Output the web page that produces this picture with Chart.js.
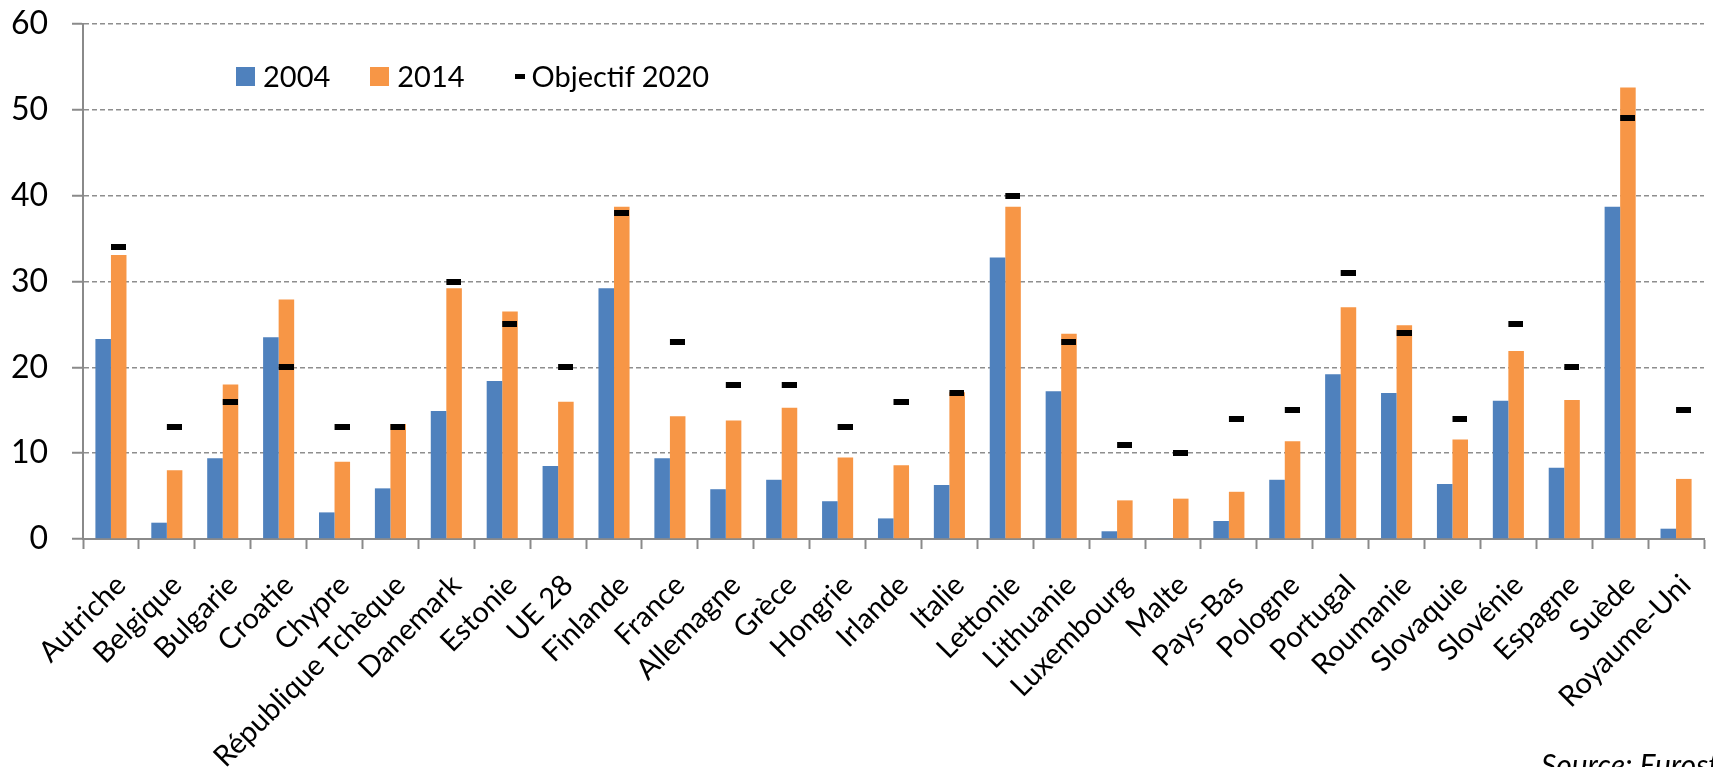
<!DOCTYPE html>
<html lang="fr">
<head>
<meta charset="utf-8">
<title>Part des renouvelables</title>
<script src="https://cdn.jsdelivr.net/npm/chart.js@4.4.1/dist/chart.umd.min.js"></script>
<style>
    html, body {
        margin: 0;
        padding: 0;
        background: #fff;
        overflow: hidden;
    }
    #wrap {
        position: relative;
        width: 1713px;
        height: 767px;
        overflow: hidden;
        font-family: Lato, 'Open Sans', sans-serif;
        color: #000;
    }
    #legend {
        position: absolute;
        top: 58px;
        left: 236px;
        display: flex;
        align-items: center;
        font-size: 29px;
        line-height: 36px;
    }
    .legend-item {
        display: flex;
        align-items: center;
    }
    .swatch {
        width: 19px;
        height: 19px;
        margin-right: 8px;
    }
    .dash {
        width: 10px;
        height: 5px;
        background: #000;
        margin-right: 7px;
    }
    #source {
        position: absolute;
        left: 1541px;
        top: 749px;
        font-size: 30px;
        line-height: 30px;
        font-style: italic;
        white-space: nowrap;
    }
</style>
</head>
<body>
<div id="wrap">
    <canvas id="chart" width="1713" height="767"></canvas>
    <div id="legend"></div>
    <div id="source">Source: Eurostat</div>
</div>

<script>
// Data
const countries = ['Autriche', 'Belgique', 'Bulgarie', 'Croatie', 'Chypre', 'République Tchèque', 'Danemark',
    'Estonie', 'UE 28', 'Finlande', 'France', 'Allemagne', 'Grèce', 'Hongrie', 'Irlande', 'Italie', 'Lettonie',
    'Lithuanie', 'Luxembourg', 'Malte', 'Pays-Bas', 'Pologne', 'Portugal', 'Roumanie', 'Slovaquie', 'Slovénie',
    'Espagne', 'Suède', 'Royaume-Uni'];

const share2004 = [23.3, 1.9, 9.4, 23.5, 3.1, 5.9, 14.9, 18.4, 8.5, 29.2, 9.4, 5.8, 6.9, 4.4, 2.4, 6.3, 32.8,
    17.2, 0.9, 0.1, 2.1, 6.9, 19.2, 17.0, 6.4, 16.1, 8.3, 38.7, 1.2];

const share2014 = [33.1, 8.0, 18.0, 27.9, 9.0, 13.4, 29.2, 26.5, 16.0, 38.7, 14.3, 13.8, 15.3, 9.5, 8.6, 17.1, 38.7,
    23.9, 4.5, 4.7, 5.5, 11.4, 27.0, 24.9, 11.6, 21.9, 16.2, 52.6, 7.0];

const target2020 = [34, 13, 16, 20, 13, 13, 30, 25, 20, 38, 23, 18, 18, 13, 16, 17, 40,
    23, 11, 10, 14, 15, 31, 24, 14, 25, 20, 49, 15];

const yTicks = [0, 10, 20, 30, 40, 50, 60];

const seriesNames = ['2004', '2014', 'Objectif 2020'];
const colors = {
    blue: '#4f81bd',
    orange: '#f79646',
    grid: '#8e8e8e',
    axis: '#8a8a8a'
};

// Target dash: drawn in a small canvas so that it sits over the 2014 bar
// (the point is at the category centre, the dash is on its right half)
function makeTargetMark() {
    const dashWidth = 15;
    const dashHeight = 6;
    const c = document.createElement('canvas');
    c.width = dashWidth * 2;
    c.height = dashHeight;
    const g = c.getContext('2d');
    g.fillStyle = '#000';
    g.fillRect(dashWidth, 0, dashWidth, dashHeight);
    return c;
}

// Simple HTML legend (the legend sits inside the plot area)
function buildLegend() {
    const legend = document.getElementById('legend');
    const items = [
        { cls: 'swatch', color: colors.blue, text: seriesNames[0], gap: 40 },
        { cls: 'swatch', color: colors.orange, text: seriesNames[1], gap: 50 },
        { cls: 'dash', color: '#000', text: seriesNames[2], gap: 0 }
    ];
    items.forEach(item => {
        const el = document.createElement('div');
        el.className = 'legend-item';
        el.style.marginRight = item.gap + 'px';
        const mark = document.createElement('span');
        mark.className = item.cls;
        mark.style.background = item.color;
        const label = document.createElement('span');
        label.textContent = item.text;
        el.appendChild(mark);
        el.appendChild(label);
        legend.appendChild(el);
    });
}

buildLegend();

const ctx = document.getElementById('chart').getContext('2d');

new Chart(ctx, {
    type: 'bar',
    data: {
        labels: countries,
        datasets: [
            {
                label: seriesNames[0],
                data: share2004,
                backgroundColor: colors.blue,
                categoryPercentage: 0.556,
                barPercentage: 1.0,
                order: 2
            },
            {
                label: seriesNames[1],
                data: share2014,
                backgroundColor: colors.orange,
                categoryPercentage: 0.556,
                barPercentage: 1.0,
                order: 2
            },
            {
                type: 'line',
                label: seriesNames[2],
                data: target2020,
                showLine: false,
                pointStyle: makeTargetMark(),
                pointRadius: 8,
                order: 1
            }
        ]
    },
    options: {
        responsive: false,
        animation: false,
        events: [],
        layout: {
            padding: { top: 24, right: 4, bottom: 0, left: 0 }
        },
        plugins: {
            legend: { display: false },
            tooltip: { enabled: false }
        },
        scales: {
            x: {
                type: 'category',
                offset: true,
                grid: {
                    offset: true,
                    drawOnChartArea: false,
                    drawTicks: true,
                    tickLength: 10,
                    tickWidth: 2,
                    tickColor: colors.axis
                },
                border: {
                    color: colors.axis,
                    width: 2
                },
                ticks: {
                    autoSkip: false,
                    minRotation: 45,
                    maxRotation: 45,
                    padding: 19,
                    labelOffset: 10,
                    color: '#000',
                    font: { family: 'Lato', size: 29 }
                },
                afterFit: function(scale) {
                    // fixed axis height; rotated labels must not push the plot sideways
                    scale.height = 228;
                    scale.paddingLeft = 0;
                    scale.paddingRight = 0;
                }
            },
            y: {
                min: 0,
                max: 60,
                afterBuildTicks: function(scale) {
                    scale.ticks = yTicks.map(v => ({ value: v }));
                },
                grid: {
                    color: colors.grid,
                    lineWidth: 1.5,
                    tickLength: 11,
                    tickWidth: 2,
                    tickColor: colors.axis,
                    tickBorderDash: []
                },
                border: {
                    color: colors.axis,
                    width: 2,
                    dash: [5, 3]
                },
                ticks: {
                    padding: 24,
                    color: '#000',
                    font: { family: 'Lato', size: 32 }
                },
                afterFit: function(scale) {
                    // fixed axis width, and no extra room above the top label
                    scale.width = 83;
                    scale.paddingTop = 0;
                    scale.paddingBottom = 0;
                }
            }
        }
    }
});
</script>
</body>
</html>
